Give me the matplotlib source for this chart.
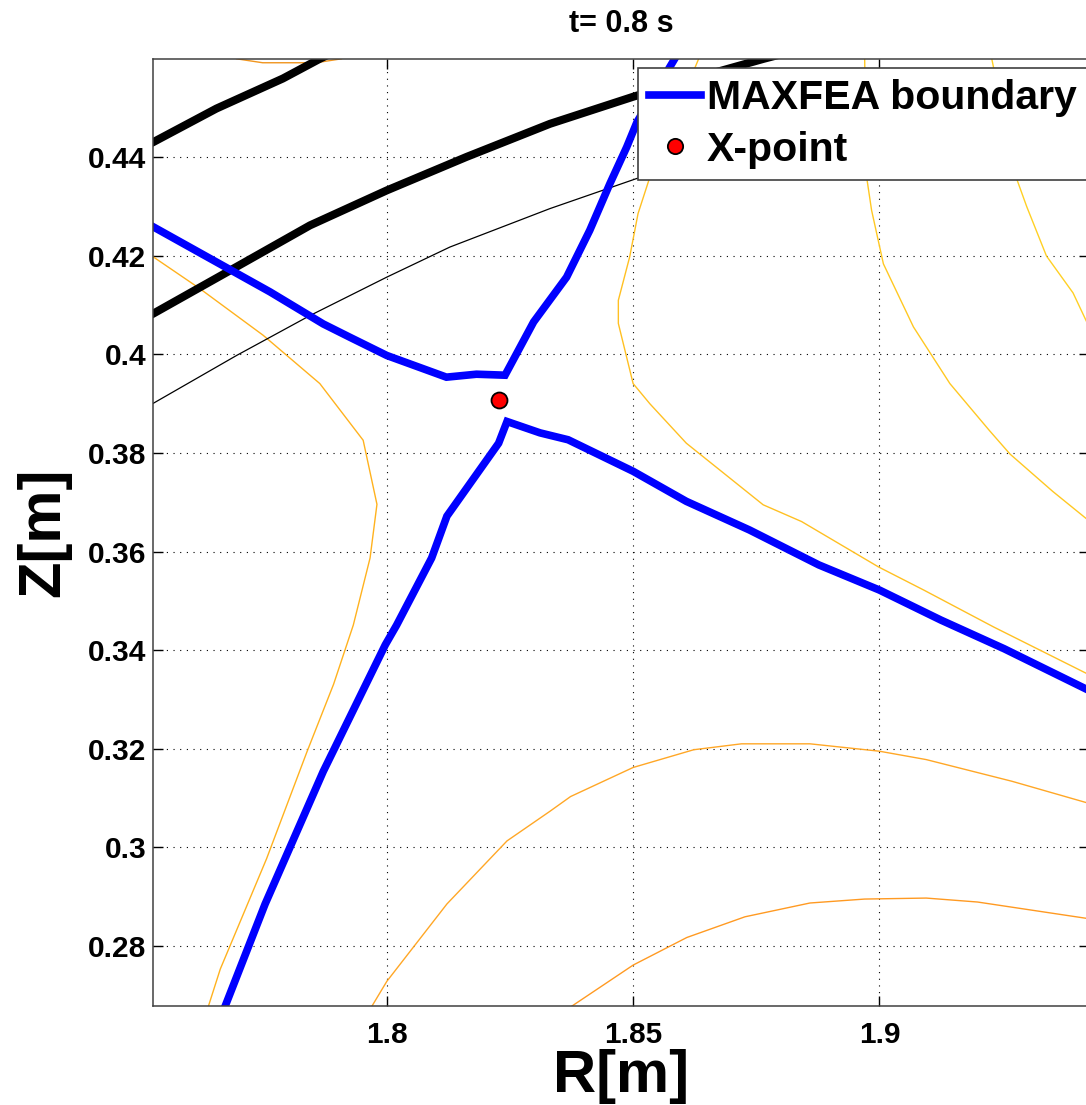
import matplotlib.pyplot as plt
from matplotlib.lines import Line2D
from matplotlib.ticker import FormatStrFormatter

plt.rcParams['font.family'] = ['Liberation Sans', 'DejaVu Sans']
plt.rcParams['font.weight'] = 'bold'

# separatrix from MAXFEA, split into its two legs through the X-point
bnd_up_R = [1.7526, 1.7763, 1.7871, 1.7925, 1.8000, 1.8121, 1.8182, 1.8240,
            1.8298, 1.8365, 1.8412, 1.8453, 1.8487, 1.8508, 1.8585, 1.8600]
bnd_up_Z = [0.4259, 0.4127, 0.4062, 0.4035, 0.3998, 0.3954, 0.3960, 0.3958,
            0.4066, 0.4157, 0.4252, 0.4347, 0.4421, 0.4472, 0.4601, 0.4630]
bnd_lo_R = [1.7660, 1.7672, 1.7753, 1.7871, 1.7997, 1.8020, 1.8091, 1.8122,
            1.8227, 1.8244, 1.8311, 1.8368, 1.8500, 1.8608, 1.8736, 1.8877,
            1.9000, 1.9125, 1.9253, 1.9426, 1.9500]
bnd_lo_Z = [0.2650, 0.2678, 0.2885, 0.3154, 0.3411, 0.3451, 0.3587, 0.3672,
            0.3820, 0.3864, 0.3841, 0.3827, 0.3763, 0.3702, 0.3644, 0.3573,
            0.3522, 0.3461, 0.3403, 0.3318, 0.3284]

xpt_R = [1.8227]
xpt_Z = [0.3907]

# wall / limiter traces
wall1_R = [1.7480, 1.7526, 1.7654, 1.7789, 1.7864, 1.7900]
wall1_Z = [0.4408, 0.4431, 0.4499, 0.4560, 0.4600, 0.4617]
wall2_R = [1.7480, 1.7526, 1.7688, 1.7844, 1.8000, 1.8162, 1.8331, 1.8500,
           1.8640, 1.8765, 1.8850]
wall2_Z = [0.4058, 0.4083, 0.4174, 0.4262, 0.4333, 0.4401, 0.4468, 0.4523,
           0.4565, 0.4600, 0.4622]
thin_R = [1.7480, 1.7526, 1.7695, 1.7844, 1.8000, 1.8128, 1.8331, 1.8507,
          1.8700, 1.8900]
thin_Z = [0.3876, 0.3901, 0.3998, 0.4079, 0.4157, 0.4218, 0.4296, 0.4357,
          0.4410, 0.4455]

# flux contours
c1_R = [1.7480, 1.7526, 1.7620, 1.7749, 1.7864, 1.7952, 1.7980, 1.7966,
        1.7932, 1.7892, 1.7838, 1.7756, 1.7662, 1.7638, 1.7625]
c1_Z = [0.4222, 0.4198, 0.4134, 0.4039, 0.3941, 0.3826, 0.3696, 0.3587,
        0.3451, 0.3331, 0.3194, 0.2977, 0.2753, 0.2678, 0.2640]
c2_R = [1.7950, 1.7970, 1.8000, 1.8122, 1.8244, 1.8331, 1.8373, 1.8500,
        1.8623, 1.8720, 1.8859, 1.9000, 1.9095, 1.9269, 1.9426, 1.9500]
c2_Z = [0.2655, 0.2678, 0.2728, 0.2885, 0.3013, 0.3073, 0.3103, 0.3162,
        0.3198, 0.3210, 0.3210, 0.3195, 0.3178, 0.3134, 0.3089, 0.3065]
c3_R = [1.8340, 1.8376, 1.8500, 1.8609, 1.8727, 1.8859, 1.8970, 1.9095,
        1.9199, 1.9426, 1.9500]
c3_Z = [0.2652, 0.2678, 0.2761, 0.2817, 0.2859, 0.2887, 0.2895, 0.2897,
        0.2889, 0.2855, 0.2840]
c4_R = [1.8650, 1.8633, 1.8534, 1.8510, 1.8493, 1.8470, 1.8470, 1.8500,
        1.8534, 1.8608, 1.8764, 1.8842, 1.8998, 1.9090, 1.9232, 1.9426, 1.9500]
c4_Z = [0.4640, 0.4600, 0.4360, 0.4286, 0.4198, 0.4110, 0.4063, 0.3941,
        0.3900, 0.3820, 0.3695, 0.3661, 0.3569, 0.3522, 0.3447, 0.3350, 0.3315]
c5_R = [1.8970, 1.8970, 1.8974, 1.8984, 1.9008, 1.9069, 1.9143, 1.9223,
        1.9265, 1.9352, 1.9426, 1.9500]
c5_Z = [0.4640, 0.4600, 0.4360, 0.4293, 0.4184, 0.4056, 0.3941, 0.3846,
        0.3798, 0.3722, 0.3662, 0.3605]
c6_R = [1.9220, 1.9228, 1.9278, 1.9299, 1.9339, 1.9393, 1.9426, 1.9460]
c6_Z = [0.4640, 0.4600, 0.4358, 0.4300, 0.4200, 0.4125, 0.4055, 0.3990]
c7_R = [1.7680, 1.7695, 1.7748, 1.7856, 1.7908, 1.7925]
c7_Z = [0.4610, 0.4600, 0.4592, 0.4592, 0.4600, 0.4610]

contours = [
    (c1_R, c1_Z, '#FFB21E'),
    (c2_R, c2_Z, '#FFA726'),
    (c3_R, c3_Z, '#FF9A22'),
    (c4_R, c4_Z, '#FFC022'),
    (c5_R, c5_Z, '#FFC822'),
    (c6_R, c6_Z, '#FFD024'),
    (c7_R, c7_Z, '#F0951E'),
]

fig = plt.figure(figsize=(10.86, 11.05), dpi=100)
ax = fig.add_axes([153.3 / 1086, 99 / 1105, 936 / 1086, 946.7 / 1105])

for r, z, col in contours:
    ax.plot(r, z, color=col, lw=1.0)

ax.plot(thin_R, thin_Z, color='k', lw=0.9)
ax.plot(wall1_R, wall1_Z, color='k', lw=5.8, solid_capstyle='butt')
ax.plot(wall2_R, wall2_Z, color='k', lw=5.8, solid_capstyle='butt')

ax.plot(bnd_up_R, bnd_up_Z, color='#0000FF', lw=5.5, solid_joinstyle='miter')
ax.plot(bnd_lo_R, bnd_lo_Z, color='#0000FF', lw=5.5, solid_joinstyle='miter')
ax.plot(xpt_R, xpt_Z, 'o', color='#FF0000', mec='k', mew=1.3, ms=11.5)

ax.set_xlim(1.7526, 1.9426)
ax.set_ylim(0.2678, 0.4599)

ax.set_xticks([1.8, 1.85, 1.9])
ax.set_yticks([0.28, 0.30, 0.32, 0.34, 0.36, 0.38, 0.40, 0.42, 0.44])
ax.xaxis.set_major_formatter(FormatStrFormatter('%g'))
ax.yaxis.set_major_formatter(FormatStrFormatter('%g'))
ax.tick_params(direction='in', length=7, width=1.0, top=True, right=True,
               labelsize=21.5, colors='k')
ax.tick_params(axis='x', pad=11)
ax.tick_params(axis='y', pad=5)
for s in ax.spines.values():
    s.set_color('#404040')
    s.set_linewidth(1.1)

ax.grid(True, color='k', linestyle=(0, (1, 5)), linewidth=0.8)

ax.set_xlabel('R[m]', fontsize=43, fontweight='bold', labelpad=0)
ax.set_ylabel('Z[m]', fontsize=43, fontweight='bold', labelpad=12)
ax.set_title('t= 0.8 s', fontsize=22, fontweight='bold', pad=20)

handles = [
    Line2D([], [], color='#0000FF', lw=5.5),
    Line2D([], [], marker='o', ls='none', color='#FF0000', mec='k', mew=1.3, ms=11),
]
leg = ax.legend(handles, ['MAXFEA boundary', 'X-point'], loc='upper left',
                bbox_to_anchor=((638 - 153.3) / 936, (1006 - 68) / 946.7),
                fontsize=29.5, frameon=True, fancybox=False, framealpha=1,
                edgecolor='#404040', borderaxespad=0, borderpad=0.28,
                handlelength=1.25, handletextpad=0.15, labelspacing=0.32)
leg.get_frame().set_linewidth(1.2)

fig.savefig('out.png', dpi=100)
